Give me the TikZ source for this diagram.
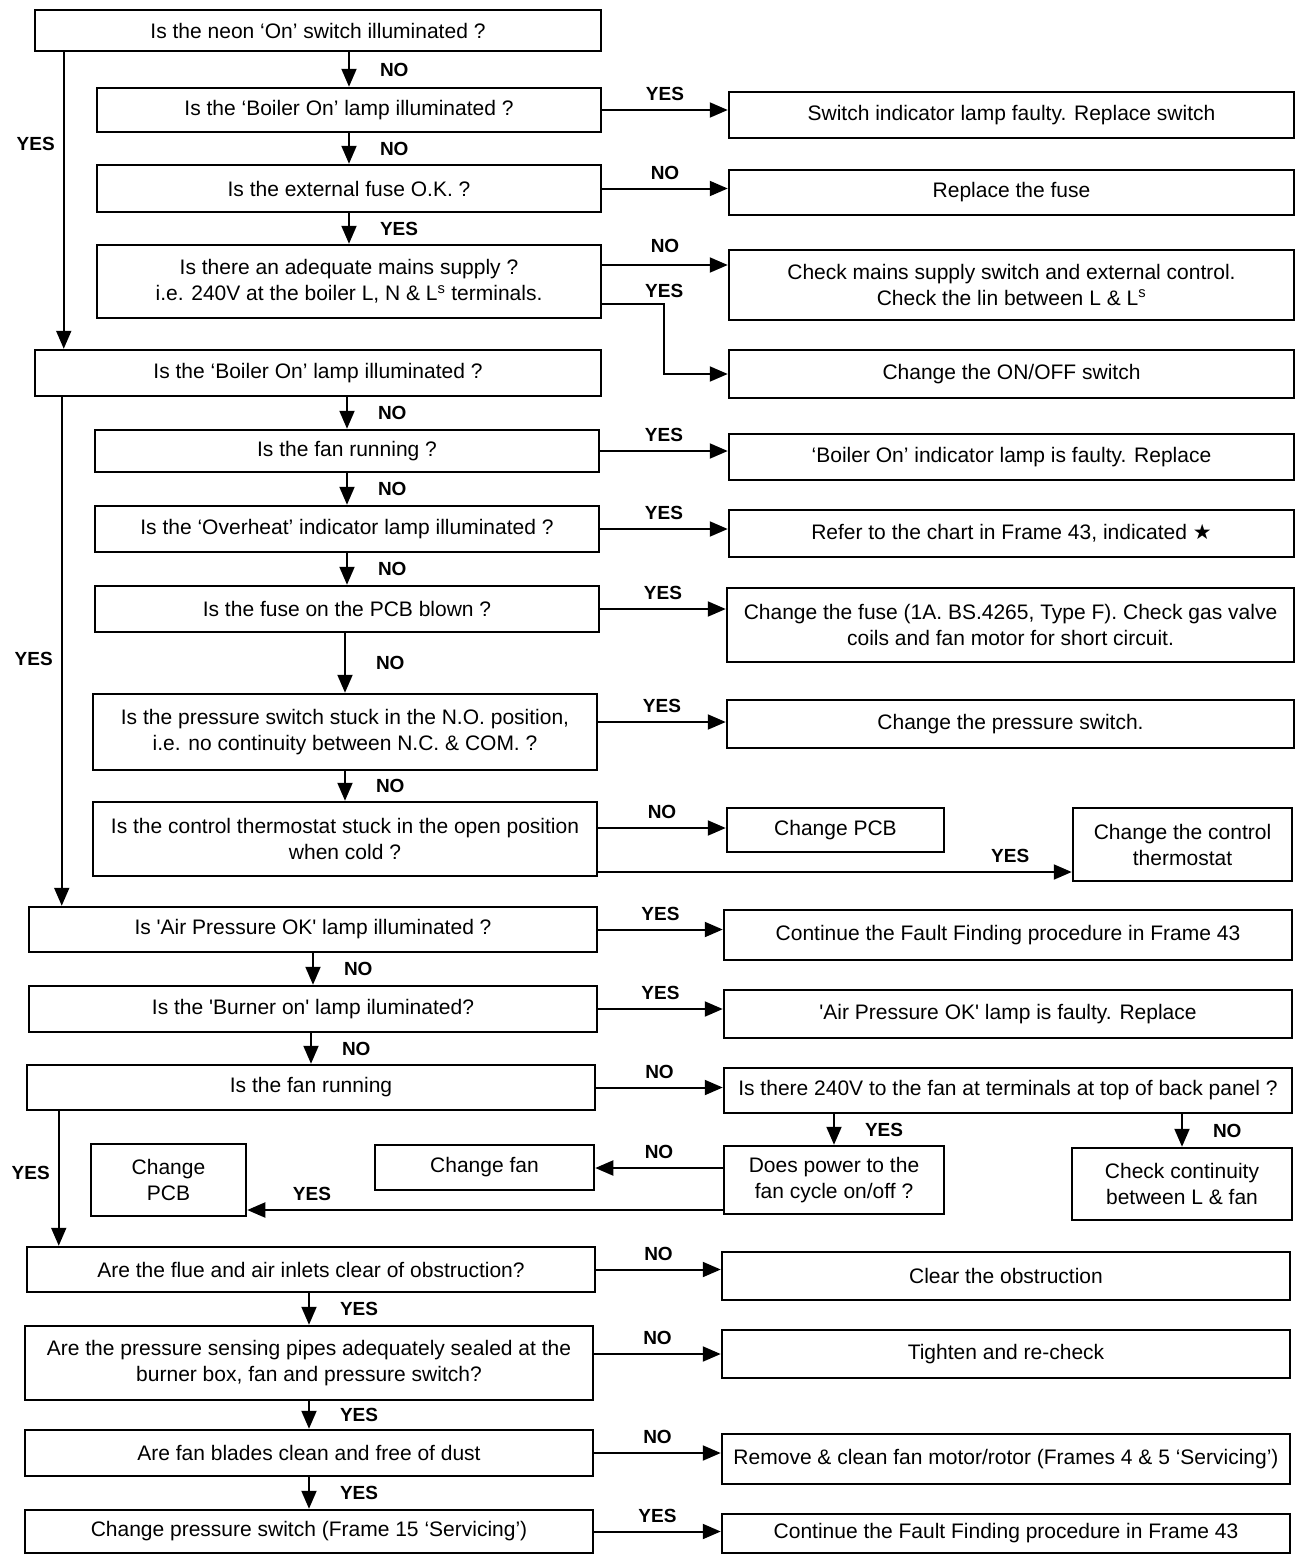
\documentclass[tikz,border=0pt]{standalone}
\usepackage{fontspec}
\setmainfont{Liberation Sans}
\newfontfamily\symfont{DejaVu Sans}
\usetikzlibrary{arrows.meta}

\tikzset{
  box/.style={draw, line width=2.5pt, inner sep=2pt, align=center,
    font=\fontsize{21}{26}\selectfont},
  arr/.style={line width=2pt, -{Triangle[length=18pt,width=15pt]}},
  lab/.style={inner sep=2pt, font=\fontsize{19}{21}\selectfont\bfseries},
}
\newcommand{\sq}{\textquotesingle}

\begin{document}
\begin{tikzpicture}[x=1pt,y=-1pt]
  \useasboundingbox (0,0) rectangle (1296,1556);

  % left column: questions
  \node[box, minimum width=566pt, minimum height=41pt] (q1) at (318,30.5) {Is the neon `On' switch illuminated ?};
  \node[box, minimum width=504pt, minimum height=44pt] (q2) at (349,110) {Is the `Boiler On' lamp illuminated ?};
  \node[box, minimum width=504pt, minimum height=47pt] (q3) at (349,188.5) {Is the external fuse O.K. ?};
  \node[box, minimum width=504pt, minimum height=73pt] (q4) at (349,281.5)
    {Is there an adequate mains supply ?\\ i.e. 240V at the boiler L, N \& L\textsuperscript{s} terminals.};
  \node[box, minimum width=566pt, minimum height=46pt] (q5) at (318,373) {Is the `Boiler On' lamp illuminated ?};
  \node[box, minimum width=504pt, minimum height=42pt] (q6) at (347,451) {Is the fan running ?};
  \node[box, minimum width=504pt, minimum height=46pt] (q7) at (347,529) {Is the `Overheat' indicator lamp illuminated ?};
  \node[box, minimum width=504pt, minimum height=46pt] (q8) at (347,609) {Is the fuse on the PCB blown ?};
  \node[box, minimum width=504pt, minimum height=76pt] (q9) at (345,732)
    {Is the pressure switch stuck in the N.O. position,\\ i.e. no continuity between N.C. \& COM. ?};
  \node[box, minimum width=504pt, minimum height=74pt] (q10) at (345,839)
    {Is the control thermostat stuck in the open position\\ when cold ?};
  \node[box, minimum width=568pt, minimum height=45pt] (q11) at (313,929.5) {Is \sq Air Pressure OK\sq{} lamp illuminated ?};
  \node[box, minimum width=568pt, minimum height=46pt] (q12) at (313,1009) {Is the \sq Burner on\sq{} lamp iluminated?};
  \node[box, minimum width=568pt, minimum height=45pt] (q13) at (311,1087.5) {Is the fan running};
  \node[box, minimum width=568pt, minimum height=45pt] (q14) at (311,1269.5) {Are the flue and air inlets clear of obstruction?};
  \node[box, minimum width=568pt, minimum height=74pt] (q15) at (309,1363)
    {Are the pressure sensing pipes adequately sealed at the\\ burner box, fan and pressure switch?};
  \node[box, minimum width=568pt, minimum height=46pt] (q16) at (309,1453) {Are fan blades clean and free of dust};
  \node[box, minimum width=568pt, minimum height=43pt] (q17) at (309,1531.5) {Change pressure switch (Frame 15 `Servicing')};

  % right column: actions
  \node[box, minimum width=565pt, minimum height=46pt] (r1) at (1011.5,115) {Switch indicator lamp faulty. Replace switch};
  \node[box, minimum width=565pt, minimum height=45pt] (r2) at (1011.5,192.5) {Replace the fuse};
  \node[box, minimum width=565pt, minimum height=70pt] (r3) at (1011.5,285)
    {Check mains supply switch and external control.\\ Check the lin between L \& L\textsuperscript{s}};
  \node[box, minimum width=565pt, minimum height=48pt] (r4) at (1011.5,374) {Change the ON/OFF switch};
  \node[box, minimum width=565pt, minimum height=46pt] (r5) at (1011.5,457) {`Boiler On' indicator lamp is faulty. Replace};
  \node[box, minimum width=565pt, minimum height=47pt] (r6) at (1011.5,533.5) {Refer to the chart in Frame 43, indicated {\symfont ★}};
  \node[box, minimum width=567pt, minimum height=74pt] (r7) at (1010.5,625)
    {Change the fuse (1A. BS.4265, Type F). Check gas valve\\ coils and fan motor for short circuit.};
  \node[box, minimum width=567pt, minimum height=48pt] (r8) at (1010.5,724) {Change the pressure switch.};
  \node[box, minimum width=217pt, minimum height=44pt] (r9) at (835.5,830) {Change PCB};
  \node[box, minimum width=219pt, minimum height=73pt] (r10) at (1182.5,844.5) {Change the control\\ thermostat};
  \node[box, minimum width=568pt, minimum height=50pt] (r11) at (1008,935) {Continue the Fault Finding procedure in Frame 43};
  \node[box, minimum width=568pt, minimum height=48pt] (r12) at (1008,1014) {\sq Air Pressure OK\sq{} lamp is faulty. Replace};
  \node[box, minimum width=568pt, minimum height=45pt] (r13) at (1008,1090.5) {Is there 240V to the fan at terminals at top of back panel ?};
  \node[box, minimum width=220pt, minimum height=68pt] (r14) at (834,1180) {Does power to the\\ fan cycle on/off ?};
  \node[box, minimum width=220pt, minimum height=72pt] (r15) at (1182,1184) {Check continuity\\ between L \& fan};
  \node[box, minimum width=219pt, minimum height=45pt] (r16) at (484.5,1167.5) {Change fan};
  \node[box, minimum width=155pt, minimum height=72pt] (r17) at (168.5,1180) {Change\\ PCB};
  \node[box, minimum width=568pt, minimum height=48pt] (r18) at (1006,1276) {Clear the obstruction};
  \node[box, minimum width=568pt, minimum height=48pt] (r19) at (1006,1354) {Tighten and re-check};
  \node[box, minimum width=568pt, minimum height=50pt] (r20) at (1006,1459) {Remove \& clean fan motor/rotor (Frames 4 \& 5 `Servicing')};
  \node[box, minimum width=568pt, minimum height=39pt] (r21) at (1006,1533.5) {Continue the Fault Finding procedure in Frame 43};

  % first block
  \draw[arr] (q2.north |- q1.south) -- node[lab, right=28pt] {NO} (q2.north);
  \draw[arr] (q2.east) -- node[lab, above=6pt] {YES} (q2.east -| r1.west);
  \draw[arr] (q3.north |- q2.south) -- node[lab, right=28pt] {NO} (q3.north);
  \draw[arr] (q3.east) -- node[lab, above=6pt] {NO} (q3.east -| r2.west);
  \draw[arr] (q4.north |- q3.south) -- node[lab, right=28pt] {YES} (q4.north);
  \draw[arr] ([yshift=16.5pt]q4.east) -- node[lab, above=9pt] {NO} ([yshift=16.5pt]q4.east -| r3.west);
  \draw[arr] ([yshift=-22pt]q4.east) -- node[lab, pos=1, above=3pt] {YES} ++(62,0) |- (r4.west);
  \draw[arr] ([xshift=30pt]q1.south west) -- node[lab, pos=0.31, left=6pt] {YES} ([xshift=30pt]q1.south west |- q5.north);

  % second block
  \draw[arr] (q6.north |- q5.south) -- node[lab, right=28pt] {NO} (q6.north);
  \draw[arr] (q6.east) -- node[lab, above=6pt] {YES} (q6.east -| r5.west);
  \draw[arr] (q7.north |- q6.south) -- node[lab, right=28pt] {NO} (q7.north);
  \draw[arr] (q7.east) -- node[lab, above=6pt] {YES} (q7.east -| r6.west);
  \draw[arr] (q8.north |- q7.south) -- node[lab, right=28pt] {NO} (q8.north);
  \draw[arr] (q8.east) -- node[lab, above=6pt] {YES} (q8.east -| r7.west);
  \draw[arr] (q9.north |- q8.south) -- node[lab, right=28pt] {NO} (q9.north);
  \draw[arr] ([yshift=10pt]q9.east) -- node[lab, above=6pt] {YES} ([yshift=10pt]q9.east -| r8.west);
  \draw[arr] (q10.north |- q9.south) -- node[lab, right=28pt] {NO} (q10.north);
  \draw[arr] ([yshift=11pt]q10.east) -- node[lab, above=6pt] {NO} ([yshift=11pt]q10.east -| r9.west);
  \draw[arr] ([yshift=-33pt]q10.east) -- node[lab, pos=0.87, above=6pt] {YES} ([yshift=-33pt]q10.east -| r10.west);
  \draw[arr] ([xshift=28pt]q5.south west) -- node[lab, pos=0.515, left=6pt] {YES} ([xshift=28pt]q5.south west |- q11.north);

  % third block
  \draw[arr] (q11.east) -- node[lab, above=6pt] {YES} (q11.east -| r11.west);
  \draw[arr] (q12.north |- q11.south) -- node[lab, right=28pt] {NO} (q12.north);
  \draw[arr] (q12.east) -- node[lab, above=6pt] {YES} (q12.east -| r12.west);
  \draw[arr] (q13.north |- q12.south) -- node[lab, right=28pt] {NO} (q13.north);
  \draw[arr] (q13.east) -- node[lab, above=6pt] {NO} (q13.east -| r13.west);
  \draw[arr] (r14.north |- r13.south) -- node[lab, right=28pt] {YES} (r14.north);
  \draw[arr] (r15.north |- r13.south) -- node[lab, right=28pt] {NO} (r15.north);
  \draw[arr] ([yshift=12pt]r14.west) -- node[lab, above=6pt] {NO} ([yshift=12pt]r14.west -| r16.east);
  \draw[arr] ([yshift=-30pt]r14.west) -- node[lab, pos=0.864, above=6pt] {YES} ([yshift=-30pt]r14.west -| r17.east);
  \draw[arr] ([xshift=33pt]q13.south west) -- node[lab, pos=0.46, left=6pt] {YES} ([xshift=33pt]q13.south west |- q14.north);

  % last block
  \draw[arr] (q14.east) -- node[lab, above=6pt] {NO} (q14.east -| r18.west);
  \draw[arr] (q15.north |- q14.south) -- node[lab, right=28pt] {YES} (q15.north);
  \draw[arr] ([yshift=9pt]q15.east) -- node[lab, above=6pt] {NO} ([yshift=9pt]q15.east -| r19.west);
  \draw[arr] (q16.north |- q15.south) -- node[lab, right=28pt] {YES} (q16.north);
  \draw[arr] (q16.east) -- node[lab, above=6pt] {NO} (q16.east -| r20.west);
  \draw[arr] (q17.north |- q16.south) -- node[lab, right=28pt] {YES} (q17.north);
  \draw[arr] (q17.east) -- node[lab, above=6pt] {YES} (q17.east -| r21.west);
\end{tikzpicture}
\end{document}
